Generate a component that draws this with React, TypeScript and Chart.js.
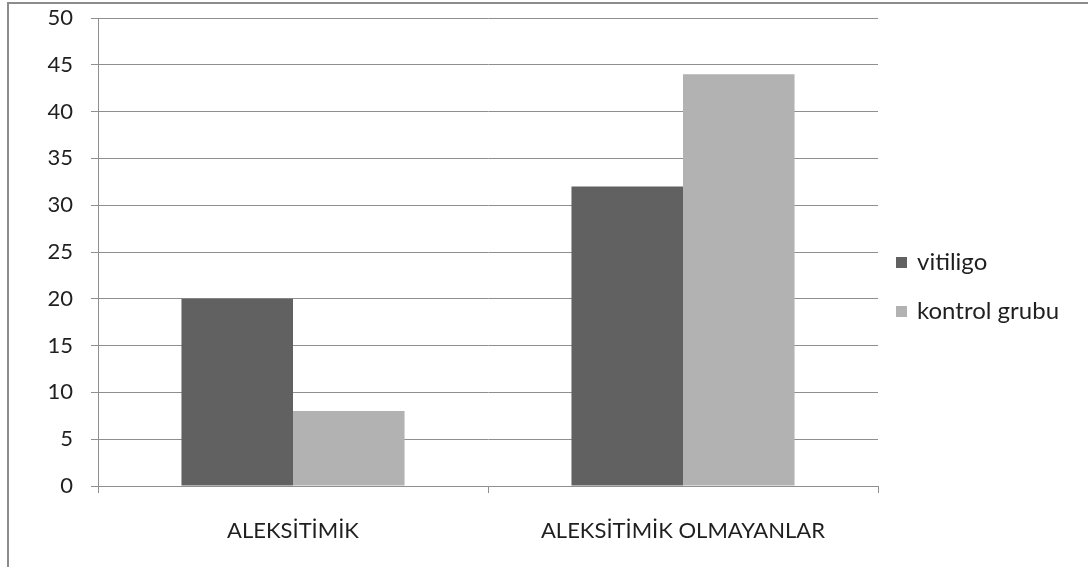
import React, { useEffect, useRef } from "react";
import { Chart, registerables } from "chart.js";

Chart.register(...registerables);

// Data
const categories = ["ALEKSİTİMİK", "ALEKSİTİMİK OLMAYANLAR"];
const vitiligo = [20, 32];
const kontrolGrubu = [8, 44];
const seriesNames = ["vitiligo", "kontrol grubu"];
const yTicks = [0, 5, 10, 15, 20, 25, 30, 35, 40, 45, 50];

const FONT = "Lato, 'Open Sans', sans-serif";
const TEXT = "#1f1f1f";
const GRID = "#8f8f8f";
const DARK = "#616161";
const LIGHT = "#b2b2b2";

// Frame around the whole drawing surface
const framePlugin = {
  id: "frame",
  beforeDraw(chart: any) {
    const { ctx, width, height } = chart;
    ctx.save();
    ctx.fillStyle = "#ffffff";
    ctx.fillRect(0, 0, width, height);
    ctx.strokeStyle = "#8c8c8c";
    ctx.lineWidth = 2;
    ctx.beginPath();
    ctx.moveTo(8, height);
    ctx.lineTo(8, 3);
    ctx.lineTo(width, 3);
    ctx.stroke();
    ctx.restore();
  },
};

// Legend on the right with square swatches
const sideLegendPlugin = {
  id: "sideLegend",
  afterDraw(chart: any) {
    const { ctx } = chart;
    const x = 896;
    const rowYs = [262, 311];
    ctx.save();
    ctx.font = `24px ${FONT}`;
    ctx.textBaseline = "middle";
    ctx.textAlign = "left";
    chart.data.datasets.forEach((ds: any, i: number) => {
      const y = rowYs[i];
      ctx.fillStyle = ds.backgroundColor;
      ctx.fillRect(x, y - 5, 11, 11);
      ctx.fillStyle = TEXT;
      ctx.fillText(ds.label, x + 21, y);
    });
    ctx.restore();
  },
};

export default function App() {
  const canvasRef = useRef<HTMLCanvasElement | null>(null);

  useEffect(() => {
    const canvas = canvasRef.current;
    if (!canvas) return;
    const chart = new Chart(canvas, {
      type: "bar",
      data: {
        labels: categories,
        datasets: [
          { label: seriesNames[0], data: vitiligo, backgroundColor: DARK, borderWidth: 0 },
          { label: seriesNames[1], data: kontrolGrubu, backgroundColor: LIGHT, borderWidth: 0 },
        ],
      },
      options: {
        responsive: false,
        animation: false,
        layout: { padding: { left: 0, right: 210, top: 18, bottom: 0 } },
        plugins: {
          legend: { display: false },
          tooltip: { enabled: false },
        },
        datasets: {
          bar: { categoryPercentage: 0.572, barPercentage: 1.0 },
        },
        scales: {
          x: {
            grid: {
              offset: true,
              drawOnChartArea: false,
              drawTicks: true,
              tickLength: 7,
              color: GRID,
              lineWidth: 1,
            },
            border: { display: true, color: GRID, width: 1 },
            ticks: {
              color: TEXT,
              font: { family: FONT, size: 22 },
              padding: 25,
              maxRotation: 0,
              autoSkip: false,
            },
            afterFit(scale: any) {
              scale.height = 81;
              scale.paddingLeft = 0;
              scale.paddingRight = 0;
            },
          },
          y: {
            min: 0,
            max: 50,
            afterBuildTicks(scale: any) {
              scale.ticks = yTicks.map((v) => ({ value: v }));
            },
            grid: {
              drawTicks: true,
              tickLength: 7,
              color: GRID,
              lineWidth: 1,
            },
            border: { display: true, color: GRID, width: 1 },
            ticks: {
              color: TEXT,
              font: { family: FONT, size: 22 },
              padding: 18,
            },
            afterFit(scale: any) {
              scale.width = 98;
              scale.paddingTop = 0;
              scale.paddingBottom = 0;
            },
          },
        },
      },
      plugins: [framePlugin, sideLegendPlugin],
    });
    return () => chart.destroy();
  }, []);

  return (
    <div style={{ position: "fixed", left: 0, top: 0, width: 1088, height: 567, overflow: "hidden" }}>
      <canvas ref={canvasRef} width={1088} height={567} style={{ display: "block" }} />
    </div>
  );
}
